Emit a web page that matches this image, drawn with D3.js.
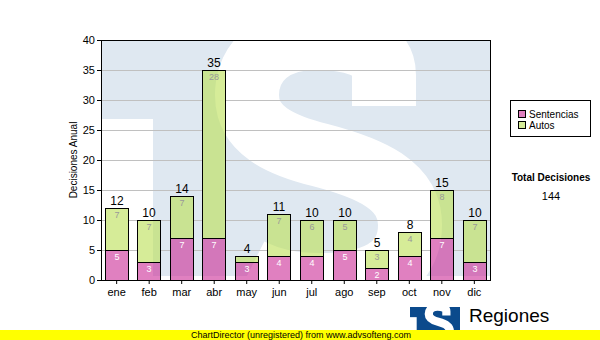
<!DOCTYPE html>
<html><head><meta charset="utf-8">
<script src="https://cdn.jsdelivr.net/npm/d3@7"></script>
<style>body{margin:0;background:#fff}svg{display:block}</style>
</head><body><svg id="c" width="600" height="340"></svg>
<script>
const months = ["ene","feb","mar","abr","may","jun","jul","ago","sep","oct","nov","dic"];
const sentencias = [5,3,7,7,3,4,4,5,2,4,7,3];
const autos = [7,7,7,28,1,7,6,5,3,4,8,7];
const yTickValues = [0,5,10,15,20,25,30,35,40];
const seriesNames = ["Sentencias","Autos"];

const FONT = "'Liberation Sans', Arial, sans-serif";
const barColors = ["#cb2b96", "#bbdf53"];
const legendColors = ["#e080c0", "#d6ec98"];
const wmBlue = "#dfe8f1";

const svg = d3.select("#c");
const L = 101, R = 490, T = 40, B = 280;

const x = d3.scaleBand().domain(months).range([L, R]).paddingInner(0.277).paddingOuter(0.12);
const y = d3.scaleLinear().domain([0, 40]).range([B, T]);

const rows = months.map((m, i) => ({month: m, Sentencias: sentencias[i], Autos: autos[i]}));
const stacked = d3.stack().keys(seriesNames)(rows);
const totals = rows.map(r => r.Sentencias + r.Autos);

const defs = svg.append("defs");
defs.append("clipPath").attr("id", "plotClip").append("rect")
  .attr("x", L).attr("y", T).attr("width", R - L).attr("height", B - T);
defs.append("clipPath").attr("id", "logoClip").append("rect")
  .attr("x", 0).attr("y", 0).attr("width", 389).attr("height", 240);
const barsClip = defs.append("clipPath").attr("id", "barsClip");
barsClip.selectAll("rect").data(rows).join("rect")
  .attr("x", d => Math.round(x(d.month))).attr("y", (d, i) => y(totals[i]))
  .attr("width", Math.round(x.bandwidth())).attr("height", (d, i) => y(0) - y(totals[i]));

function drawLogo(g, bg, fg, strip) {
  g.append("rect").attr("width", 389).attr("height", 240).attr("fill", bg);
  g.append("rect").attr("x", 0).attr("y", 79).attr("width", 52).attr("height", 161).attr("fill", fg);
  if (strip) g.append("rect").attr("x", 52).attr("y", 236).attr("width", 337).attr("height", 4).attr("fill", fg);
  g.append("path")
    .attr("d", "M283,66 L283,35 C283,5 249,-2 214,-2 C174,-2 146,20 146,55 C146,90 179,105 219,115 C269,128 309,145 309,185 C309,230 269,245 219,245 C189,245 169,240 149,230")
    .attr("fill", "none").attr("stroke", fg).attr("stroke-width", 64);
}

// watermark background
const wm = svg.append("g").attr("clip-path", "url(#plotClip)")
  .append("g").attr("transform", `translate(${L},${T})`);
drawLogo(wm, wmBlue, "#ffffff", true);

// grid lines
svg.append("g").selectAll("line").data(yTickValues.filter(v => v > 0 && v < 40)).join("line")
  .attr("x1", L).attr("x2", R).attr("y1", d => y(d) + 0.5).attr("y2", d => y(d) + 0.5)
  .attr("stroke", "#c0c0c0").attr("stroke-width", 1);

// bars: redraw watermark inside bars, then translucent fills
const bg = svg.append("g").attr("clip-path", "url(#barsClip)");
drawLogo(bg.append("g").attr("transform", `translate(${L},${T})`), wmBlue, "#ffffff", true);
stacked.forEach((s, si) => {
  bg.append("g").selectAll("rect").data(s).join("rect")
    .attr("x", d => Math.round(x(d.data.month)))
    .attr("y", d => y(d[1]))
    .attr("width", Math.round(x.bandwidth()))
    .attr("height", d => y(d[0]) - y(d[1]))
    .attr("fill", barColors[si]).attr("fill-opacity", 0.6);
});
// outlines
stacked.forEach((s) => {
  svg.append("g").selectAll("rect").data(s).join("rect")
    .attr("x", d => Math.round(x(d.data.month)) + 0.5)
    .attr("y", d => y(d[1]) + 0.5)
    .attr("width", Math.round(x.bandwidth()) - 1)
    .attr("height", d => y(d[0]) - y(d[1]))
    .attr("fill", "none").attr("stroke", "#000").attr("stroke-width", 1);
});

// inner labels
const cx = d => Math.round(x(d.data.month)) + Math.round(x.bandwidth()) / 2;
svg.append("g").selectAll("text").data(stacked[0].filter(d => y(d[0]) - y(d[1]) >= 10)).join("text")
  .attr("x", cx).attr("y", d => y(d[1]) + 10).attr("text-anchor", "middle")
  .attr("font-family", FONT).attr("font-size", 9).attr("fill", "#ffffff")
  .text(d => d[1] - d[0]);
svg.append("g").selectAll("text").data(stacked[1].filter(d => y(d[0]) - y(d[1]) >= 10)).join("text")
  .attr("x", cx).attr("y", d => y(d[1]) + 10).attr("text-anchor", "middle")
  .attr("font-family", FONT).attr("font-size", 9).attr("fill", "#999999")
  .text(d => d[1] - d[0]);
// totals
svg.append("g").selectAll("text").data(rows).join("text")
  .attr("x", d => Math.round(x(d.month)) + Math.round(x.bandwidth()) / 2)
  .attr("y", (d, i) => y(totals[i]) - 3).attr("text-anchor", "middle")
  .attr("font-family", FONT).attr("font-size", 12).attr("fill", "#000")
  .text((d, i) => totals[i]);

// plot border
svg.append("rect").attr("x", L + 0.5).attr("y", T + 0.5).attr("width", R - L).attr("height", B - T)
  .attr("fill", "none").attr("stroke", "#000");

// axes
const ya = svg.append("g").attr("transform", `translate(${L},0)`)
  .call(d3.axisLeft(y).tickValues(yTickValues).tickSize(4).tickSizeOuter(0).tickPadding(2));
const xa = svg.append("g").attr("transform", `translate(0,${B})`)
  .call(d3.axisBottom(x).tickSize(4).tickSizeOuter(0).tickPadding(4));
[ya, xa].forEach(a => {
  a.attr("font-family", FONT).attr("font-size", 11);
  a.selectAll("text").attr("fill", "#000");
  a.selectAll("line,path").attr("stroke", "#000");
});

svg.append("text").attr("transform", "translate(77,160) rotate(-90)")
  .attr("text-anchor", "middle").attr("font-family", FONT).attr("font-size", 10)
  .attr("fill", "#000").text("Decisiones Anual");

// legend
const lg = svg.append("g");
lg.append("rect").attr("x", 510.5).attr("y", 100.5).attr("width", 80).attr("height", 36)
  .attr("fill", "#fff").attr("stroke", "#000");
seriesNames.forEach((n, i) => {
  lg.append("rect").attr("x", 518.5).attr("y", 110.5 + i * 11).attr("width", 7).attr("height", 7)
    .attr("fill", legendColors[i]).attr("stroke", "#000");
  lg.append("text").attr("x", 529).attr("y", 118 + i * 11)
    .attr("font-family", FONT).attr("font-size", 10).attr("fill", "#000").text(n);
});

svg.append("text").attr("x", 551).attr("y", 181).attr("text-anchor", "middle")
  .attr("font-family", FONT).attr("font-size", 10).attr("font-weight", "bold").attr("fill", "#000")
  .text("Total Decisiones");
svg.append("text").attr("x", 551).attr("y", 200).attr("text-anchor", "middle")
  .attr("font-family", FONT).attr("font-size", 11).attr("fill", "#000")
  .text(d3.sum(totals));

// logo
const logo = svg.append("g").attr("transform", `translate(410,307) scale(${50 / 389})`)
  .append("g").attr("clip-path", "url(#logoClip)");
drawLogo(logo, "#0b4a8c", "#ffffff", false);
svg.append("text").attr("x", 469).attr("y", 322)
  .attr("font-family", FONT).attr("font-size", 19).attr("fill", "#000").text("Regiones");

// footer
svg.append("rect").attr("x", 0).attr("y", 330).attr("width", 600).attr("height", 10).attr("fill", "#ffff00");
svg.append("text").attr("x", 191).attr("y", 338)
  .attr("font-family", FONT).attr("font-size", 9).attr("fill", "#000")
  .text("ChartDirector (unregistered) from www.advsofteng.com");
</script></body></html>
